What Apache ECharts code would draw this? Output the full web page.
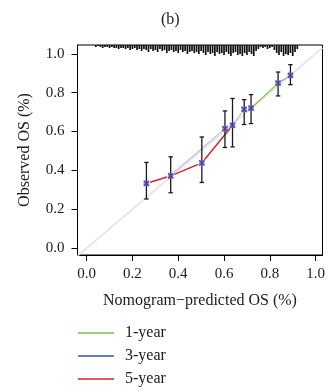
<!DOCTYPE html>
<html><head><meta charset="utf-8">
<script src="https://cdn.jsdelivr.net/npm/echarts@6/dist/echarts.min.js"></script>
<style>html,body{margin:0;padding:0;background:#fff}#c{width:328px;height:392px}</style>
</head><body><div id="c"></div>
<script>
// ---- data ----
const tickValues = [0, 0.2, 0.4, 0.6, 0.8, 1.0];
const seriesNames = ['1-year', '3-year', '5-year'];
const year1 = [[0.718, 0.720], [0.836, 0.849], [0.890, 0.889]];
const year3 = [[0.367, 0.376], [0.604, 0.615], [0.637, 0.632], [0.688, 0.714]];
const year5 = [[0.261, 0.333], [0.367, 0.372], [0.503, 0.439], [0.637, 0.632]];
const pointX  = [0.261, 0.367, 0.503, 0.604, 0.637, 0.688, 0.718, 0.836, 0.890];
const pointY  = [0.333, 0.372, 0.439, 0.615, 0.632, 0.714, 0.720, 0.849, 0.889];
const errLow  = [0.253, 0.285, 0.338, 0.518, 0.521, 0.636, 0.641, 0.783, 0.841];
const errHigh = [0.441, 0.470, 0.572, 0.706, 0.770, 0.764, 0.790, 0.906, 0.944];
const rugX = [0.04,0.05,0.06,0.07,0.08,0.09,0.10,0.11,0.12,0.13,0.14,0.15,0.16,0.17,0.18,0.19,0.20,0.21,0.22,0.23,0.24,0.25,0.26,0.27,0.28,0.29,0.30,0.31,0.32,0.33,0.34,0.35,0.36,0.37,0.38,0.39,0.40,0.41,0.42,0.43,0.44,0.45,0.46,0.47,0.48,0.49,0.50,0.51,0.52,0.53,0.54,0.55,0.56,0.57,0.58,0.59,0.60,0.61,0.62,0.63,0.64,0.65,0.66,0.67,0.68,0.69,0.70,0.71,0.72,0.73,0.74,0.75,0.76,0.77,0.78,0.79,0.80,0.81,0.82,0.83,0.84,0.85,0.86,0.87,0.88,0.89,0.90,0.91,0.92];
const rugCount = [1,0,1,2,1,1,2,1,2,2,3,2,2,3,2,4,3,2,4,3,5,3,4,6,3,5,4,6,3,5,4,7,5,4,6,5,7,4,6,5,8,6,5,7,6,8,5,7,9,6,8,7,10,6,8,7,9,6,8,10,7,6,9,8,10,7,9,6,8,10,5,3,1,2,1,3,2,1,4,7,9,6,10,8,9,7,10,6,3];

const colors = {'1-year': '#7cc242', '3-year': '#3a4fae', '5-year': '#d7222c'};
const FONT = 'Liberation Serif';

function segs(pts){ const out=[]; for(let i=0;i<pts.length-1;i++) out.push([pts[i][0],pts[i][1],pts[i+1][0],pts[i+1][1]]); return out; }
function segRender(color, width){
  return function(params, api){
    const p1 = api.coord([api.value(0), api.value(1)]);
    const p2 = api.coord([api.value(2), api.value(3)]);
    const dx = p2[0]-p1[0], dy = p2[1]-p1[1], L = Math.hypot(dx, dy), g = 4;
    if (L < 2*g+1) return;
    const ux = dx/L, uy = dy/L;
    return {type:'line', shape:{x1:p1[0]+ux*g, y1:p1[1]+uy*g, x2:p2[0]-ux*g, y2:p2[1]-uy*g},
            style:{stroke:color, lineWidth:width}};
  };
}
const lineWidths = {'1-year': 1.1, '3-year': 0.9, '5-year': 1.5};
const lineStroke = {'1-year': '#7cc242', '3-year': '#9a9fe0', '5-year': '#d7222c'};
const dataByName = {'1-year': year1, '3-year': year3, '5-year': year5};

const chart = echarts.init(document.getElementById('c'));
const series = [];
// diagonal reference line
series.push({type:'line', data:[[-0.04,-0.04],[1.03,1.03]], symbol:'none', silent:true, z:1,
  lineStyle:{color:'#e4e4e4', width:1.6}});
// rug of predicted values along top
series.push({type:'custom', silent:true, z:2, clip:true,
  data: rugX.map((x,i)=>[x, rugCount[i]]),
  renderItem:function(params, api){
    const top = api.coord([api.value(0), 1.045]);
    return {type:'line', shape:{x1:top[0], y1:top[1], x2:top[0], y2:top[1]+api.value(1)*1.0+1},
      style:{stroke:'#111', lineWidth:1.7}};
  }});
// calibration lines
seriesNames.forEach(n=>{
  series.push({name:n, type:'custom', z:3, data:segs(dataByName[n]), encode:{x:[0,2], y:[1,3]},
    itemStyle:{color:colors[n]}, renderItem:segRender(lineStroke[n], lineWidths[n])});
});
// error bars
series.push({type:'custom', z:4, silent:true,
  data: pointX.map((x,i)=>[x, errLow[i], errHigh[i]]),
  renderItem:function(params, api){
    const lo = api.coord([api.value(0), api.value(1)]);
    const hi = api.coord([api.value(0), api.value(2)]);
    const w = 2.2, st = {stroke:'#1a1a1a', lineWidth:1.3};
    return {type:'group', children:[
      {type:'line', shape:{x1:lo[0], y1:lo[1], x2:hi[0], y2:hi[1]}, style:st},
      {type:'line', shape:{x1:lo[0]-w, y1:lo[1], x2:lo[0]+w, y2:lo[1]}, style:st},
      {type:'line', shape:{x1:hi[0]-w, y1:hi[1], x2:hi[0]+w, y2:hi[1]}, style:st}
    ]};
  }});
// point markers
series.push({type:'custom', z:5, silent:true,
  data: pointX.map((x,i)=>[x, pointY[i]]),
  renderItem:function(params, api){
    const p = api.coord([api.value(0), api.value(1)]);
    const s = 2.5, c = 2.5;
    return {type:'group', children:[
      {type:'rect', shape:{x:p[0]-s, y:p[1]-s, width:2*s, height:2*s}, style:{fill:'rgba(130,80,170,0.6)', stroke:'#7a6ab8', lineWidth:0.5}},
      {type:'line', shape:{x1:p[0]-c, y1:p[1]-c, x2:p[0]+c, y2:p[1]+c}, style:{stroke:'#2d43b8', lineWidth:1.1}},
      {type:'line', shape:{x1:p[0]-c, y1:p[1]+c, x2:p[0]+c, y2:p[1]-c}, style:{stroke:'#2d43b8', lineWidth:1.1}}
    ]};
  }});

const axisCommon = {
  type:'value', splitLine:{show:false},
  axisLine:{show:true, onZero:false, lineStyle:{color:'#000', width:1}},
  axisTick:{show:true, length:6, customValues:tickValues, lineStyle:{color:'#000', width:1}},
  axisLabel:{customValues:tickValues, formatter:v=>v.toFixed(1), fontFamily:FONT, fontSize:15, color:'#1a1a1a'},
  nameLocation:'middle', nameTextStyle:{fontFamily:FONT, fontSize:16, color:'#1a1a1a'}
};

chart.setOption({
  animation:false,
  backgroundColor:'#fff',
  grid:{left:77.5, right:1.5, top:45, bottom:137, show:true, borderColor:'#000', borderWidth:1, containLabel:false},
  xAxis:Object.assign({}, axisCommon, {min:-0.04, max:1.03, name:'Nomogram\u2212predicted OS (%)', nameGap:38,
    axisLabel:Object.assign({}, axisCommon.axisLabel, {margin:12})}),
  yAxis:Object.assign({}, axisCommon, {min:-0.035, max:1.045, name:'Observed OS (%)', nameGap:45,
    axisLabel:Object.assign({}, axisCommon.axisLabel, {margin:13})}),
  legend:{orient:'vertical', left:78, top:325, height:120, itemWidth:36, itemHeight:1.6, itemGap:7, icon:'rect',
    data:seriesNames, selectedMode:false, padding:0,
    textStyle:{fontFamily:FONT, fontSize:16, color:'#1a1a1a', padding:[0,0,0,6]}},
  graphic:[{type:'text', left:161, top:12, style:{text:'(b)', font:'16px "Liberation Serif"', fill:'#1a1a1a'}}],
  series:series
});
</script></body></html>
